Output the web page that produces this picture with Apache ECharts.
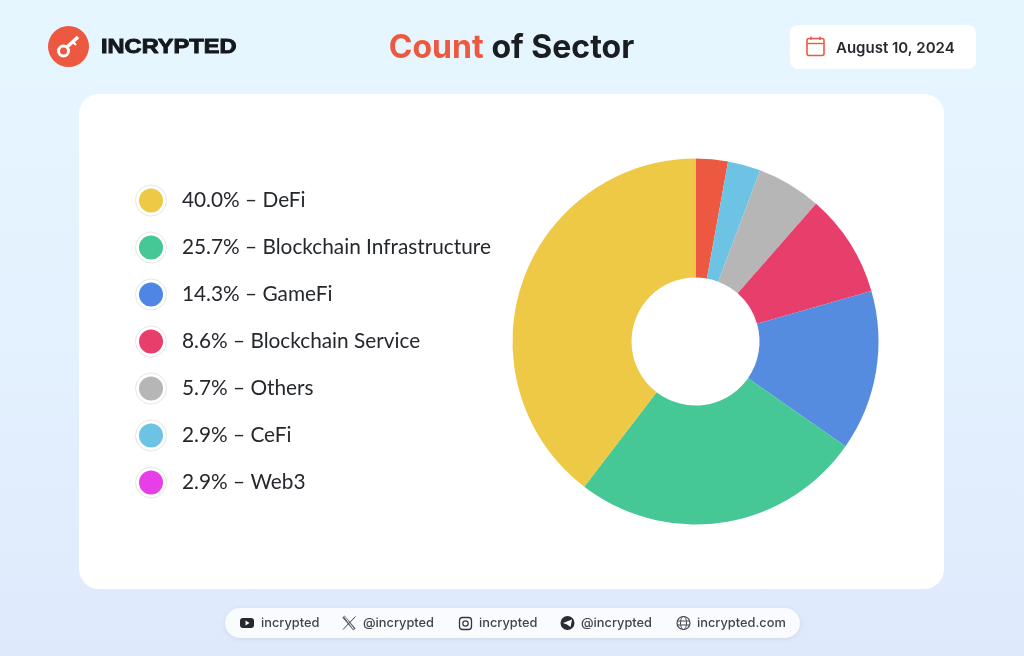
<!DOCTYPE html>
<html><head><meta charset="utf-8">
<style>html,body{margin:0;padding:0;width:1024px;height:656px;overflow:hidden}
#c{width:1024px;height:656px;background:linear-gradient(180deg,#e6f6ff 0%,#e4f1fe 50%,#dfe9fc 100%)}</style>
<script src="https://cdn.jsdelivr.net/npm/echarts@6/dist/echarts.min.js"></script>
</head><body><div id="c"></div>
<script>
// wedge sizes as drawn in the picture (clockwise from 12 o'clock)
var sliceNames=['Web3','CeFi','Others','Blockchain Service','GameFi','Blockchain Infrastructure','DeFi'];
var sliceValues=[2.85,2.9,5.7,9.1,14.15,25.7,39.6];
var sliceColors=['#ec5940','#6cc3e3','#b6b6b6','#e83e6b','#568ce0','#45c896','#edc945'];
// legend as printed
var legendOrder=['DeFi','Blockchain Infrastructure','GameFi','Blockchain Service','Others','CeFi','Web3'];
var legendPercents=['40.0%','25.7%','14.3%','8.6%','5.7%','2.9%','2.9%'];
var legendColors=['#edc945','#45c896','#4f86e6','#e83e6b','#b6b6b6','#6cc3e3','#e83ee8'];
var footerLabels=['incrypted','@incrypted','incrypted','@incrypted','incrypted.com'];
var footerX=[261,363,479,581,697];
var dateText='August 10, 2024';

var chart=echarts.init(document.getElementById('c'),null,{renderer:'canvas'});
var F='Inter, "Liberation Sans", sans-serif';
var g=[
 {type:'rect',shape:{x:79,y:94,width:865,height:495,r:20},style:{fill:'#fff'}},
 {type:'rect',shape:{x:790,y:25,width:186,height:44,r:8},style:{fill:'#fff'}},
 {type:'rect',shape:{x:225,y:608,width:575,height:30,r:15},style:{fill:'#f9fbff',shadowBlur:5,shadowColor:'rgba(120,140,180,0.18)',shadowOffsetY:1}},
 // logo
 {type:'circle',shape:{cx:68.5,cy:46.5,r:20.5},style:{fill:'#ec5940'}},
 {type:'circle',shape:{cx:63.5,cy:51,r:5},style:{fill:'none',stroke:'#fff',lineWidth:3}},
 {type:'polyline',shape:{points:[[67,47],[78,37]]},style:{stroke:'#fff',lineWidth:3.5,fill:'none'}},
 {type:'polyline',shape:{points:[[73,42],[76,45]]},style:{stroke:'#fff',lineWidth:2,fill:'none'}},
 {type:'text',x:101,y:38,scaleX:1.21,style:{text:'INCRYPTED',fill:'#14181d',font:'900 19.5px "Liberation Sans"',stroke:'#14181d',lineWidth:0.9,textVerticalAlign:'top'}},
 // calendar
 {type:'rect',shape:{x:807,y:38.5,width:17,height:17,r:2},style:{fill:'none',stroke:'#ec5940',lineWidth:1.6}},
 {type:'line',shape:{x1:807,y1:43.5,x2:824,y2:43.5},style:{stroke:'#ec5940',lineWidth:1.4}},
 {type:'line',shape:{x1:811,y1:36.5,x2:811,y2:40},style:{stroke:'#ec5940',lineWidth:1.5}},
 {type:'line',shape:{x1:820,y1:36.5,x2:820,y2:40},style:{stroke:'#ec5940',lineWidth:1.5}},
 {type:'text',x:836,y:48,style:{text:dateText,fill:'#26292e',font:'600 15px '+F,textVerticalAlign:'middle'}},
 // footer icons
 {type:'rect',shape:{x:240,y:618,width:14,height:10,r:3},style:{fill:'#25282d'}},
 {type:'polygon',shape:{points:[[245.5,620.5],[245.5,625.5],[249.5,623]]},style:{fill:'#fff'}},
 {type:'line',shape:{x1:343.5,y1:616.5,x2:354.5,y2:629.5},style:{stroke:'#5b6066',lineWidth:3}},
 {type:'line',shape:{x1:344.5,y1:616.5,x2:354,y2:629.5},style:{stroke:'#f9fbff',lineWidth:1}},
 {type:'line',shape:{x1:355.5,y1:616.5,x2:343,y2:629.5},style:{stroke:'#3c4046',lineWidth:1}},
 {type:'rect',shape:{x:459.5,y:617.5,width:12,height:12,r:3},style:{fill:'none',stroke:'#33373c',lineWidth:1.3}},
 {type:'circle',shape:{cx:465.5,cy:623.5,r:2.7},style:{fill:'none',stroke:'#33373c',lineWidth:1.2}},
 {type:'circle',shape:{cx:567.5,cy:623,r:7},style:{fill:'#2a2d32'}},
 {type:'polygon',shape:{points:[[563,623],[572,619.5],[570.5,627],[567,624.5]]},style:{fill:'#fff'}},
 {type:'circle',shape:{cx:683.5,cy:623,r:6.5},style:{fill:'none',stroke:'#44484e',lineWidth:1.2}},
 {type:'ellipse',shape:{cx:683.5,cy:623,rx:3,ry:6.5},style:{fill:'none',stroke:'#44484e',lineWidth:1}},
 {type:'line',shape:{x1:677,y1:621,x2:690,y2:621},style:{stroke:'#44484e',lineWidth:1}},
 {type:'line',shape:{x1:677,y1:625,x2:690,y2:625},style:{stroke:'#44484e',lineWidth:1}}
];
footerLabels.forEach(function(t,i){
 g.push({type:'text',x:footerX[i],y:623,style:{text:t,fill:'#41454b',font:'500 12.8px '+F,textVerticalAlign:'middle'}});
});
legendOrder.forEach(function(n,i){
 g.push({type:'circle',shape:{cx:151,cy:200.5+47*i,r:15.5},style:{fill:'#fff',stroke:'#e6e6e8',lineWidth:1}});
});
chart.setOption({
 animation:false,
 title:{left:506.5,top:27,textAlign:'center',
  text:'{a|Count}  {b|of Sector}',
  textStyle:{fontSize:14,rich:{a:{fontFamily:F,fontSize:32,fontWeight:700,color:'#ec5940'},b:{fontFamily:F,fontSize:32,fontWeight:700,color:'#1a1d22'}}}},
 graphic:g,
 legend:{orient:'vertical',left:134,top:183.5,itemWidth:24,itemHeight:24,itemGap:23,icon:'circle',selectedMode:false,
  data:legendOrder.map(function(n,i){return {name:n,itemStyle:{color:legendColors[i]}};}),
  formatter:function(n){return legendPercents[legendOrder.indexOf(n)]+' – '+n;},
  textStyle:{fontFamily:'"Lato"',fontSize:20.8,color:'#24272c',padding:[0,0,0,14]}},
 series:[{type:'pie',center:[695.5,341.5],radius:[64,183],startAngle:90,clockwise:true,label:{show:false},labelLine:{show:false},silent:true,
  data:sliceNames.map(function(n,i){return {name:n,value:sliceValues[i],itemStyle:{color:sliceColors[i]}};})}]
});
</script></body></html>
